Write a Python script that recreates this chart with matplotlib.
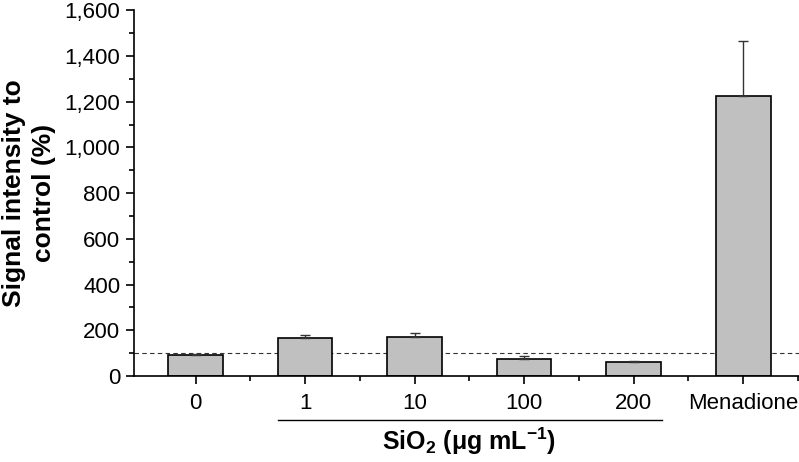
import numpy as np
import matplotlib.pyplot as plt
from matplotlib.ticker import MultipleLocator, FuncFormatter

# data
categories = ['0', '1', '10', '100', '200', 'Menadione']
values = [92, 167, 170, 73, 63, 1225]
errors = [6, 13, 20, 13, 2, 240]
control_level = 100

plt.rcParams['font.family'] = ['Liberation Sans', 'DejaVu Sans']
plt.rcParams['mathtext.fontset'] = 'custom'
plt.rcParams['mathtext.rm'] = 'Liberation Sans'
plt.rcParams['mathtext.bf'] = 'Liberation Sans:bold'

fig = plt.figure(figsize=(7.99, 4.62), dpi=100)
ax = fig.add_axes([0.168, 0.186, 0.832, 0.792])

x = np.arange(len(categories))
ax.bar(x, values, width=0.5, color='#c0c0c0', edgecolor='black', linewidth=1.2, zorder=2)
ax.errorbar(x, values, yerr=[np.zeros(len(errors)), errors], fmt='none',
            ecolor='#333333', elinewidth=1.0, capsize=3.8, capthick=1.0, zorder=3)
ax.axhline(control_level, color='#333333', linestyle=(0, (4, 3)), linewidth=0.8, zorder=1)

ax.set_xlim(-0.56, 5.51)
ax.set_ylim(0, 1600)
ax.set_xticks(x)
ax.set_xticklabels(categories, fontsize=16)
ax.set_xticks(x + 0.5, minor=True)
ax.yaxis.set_major_locator(MultipleLocator(200))
ax.yaxis.set_minor_locator(MultipleLocator(100))
ax.yaxis.set_major_formatter(FuncFormatter(lambda v, p: f'{int(v):,}'))
ax.tick_params(axis='y', labelsize=16, pad=4)
ax.tick_params(axis='x', pad=6)
ax.tick_params(which='major', direction='out', length=6, width=1.2)
ax.tick_params(which='minor', direction='out', length=3.5, width=1.2)

ax.spines['top'].set_visible(False)
ax.spines['right'].set_visible(False)
ax.spines['left'].set_linewidth(1.2)
ax.spines['bottom'].set_linewidth(1.2)

ax.set_ylabel('Signal intensity to\ncontrol (%)', fontsize=19, fontweight='bold',
              labelpad=6, linespacing=1.35)

# group line and label under the SiO2 concentrations
trans = ax.get_xaxis_transform()
ax.plot([0.75, 4.26], [-0.12, -0.12], color='black', linewidth=1.0,
        transform=trans, clip_on=False)
ax.text(2.5, -0.178, r'SiO$_\mathbf{2}$ (μg mL$^{\mathbf{−1}}$)', transform=trans,
        ha='center', va='center', fontsize=18, fontweight='bold')

fig.savefig('out.png', dpi=100)
